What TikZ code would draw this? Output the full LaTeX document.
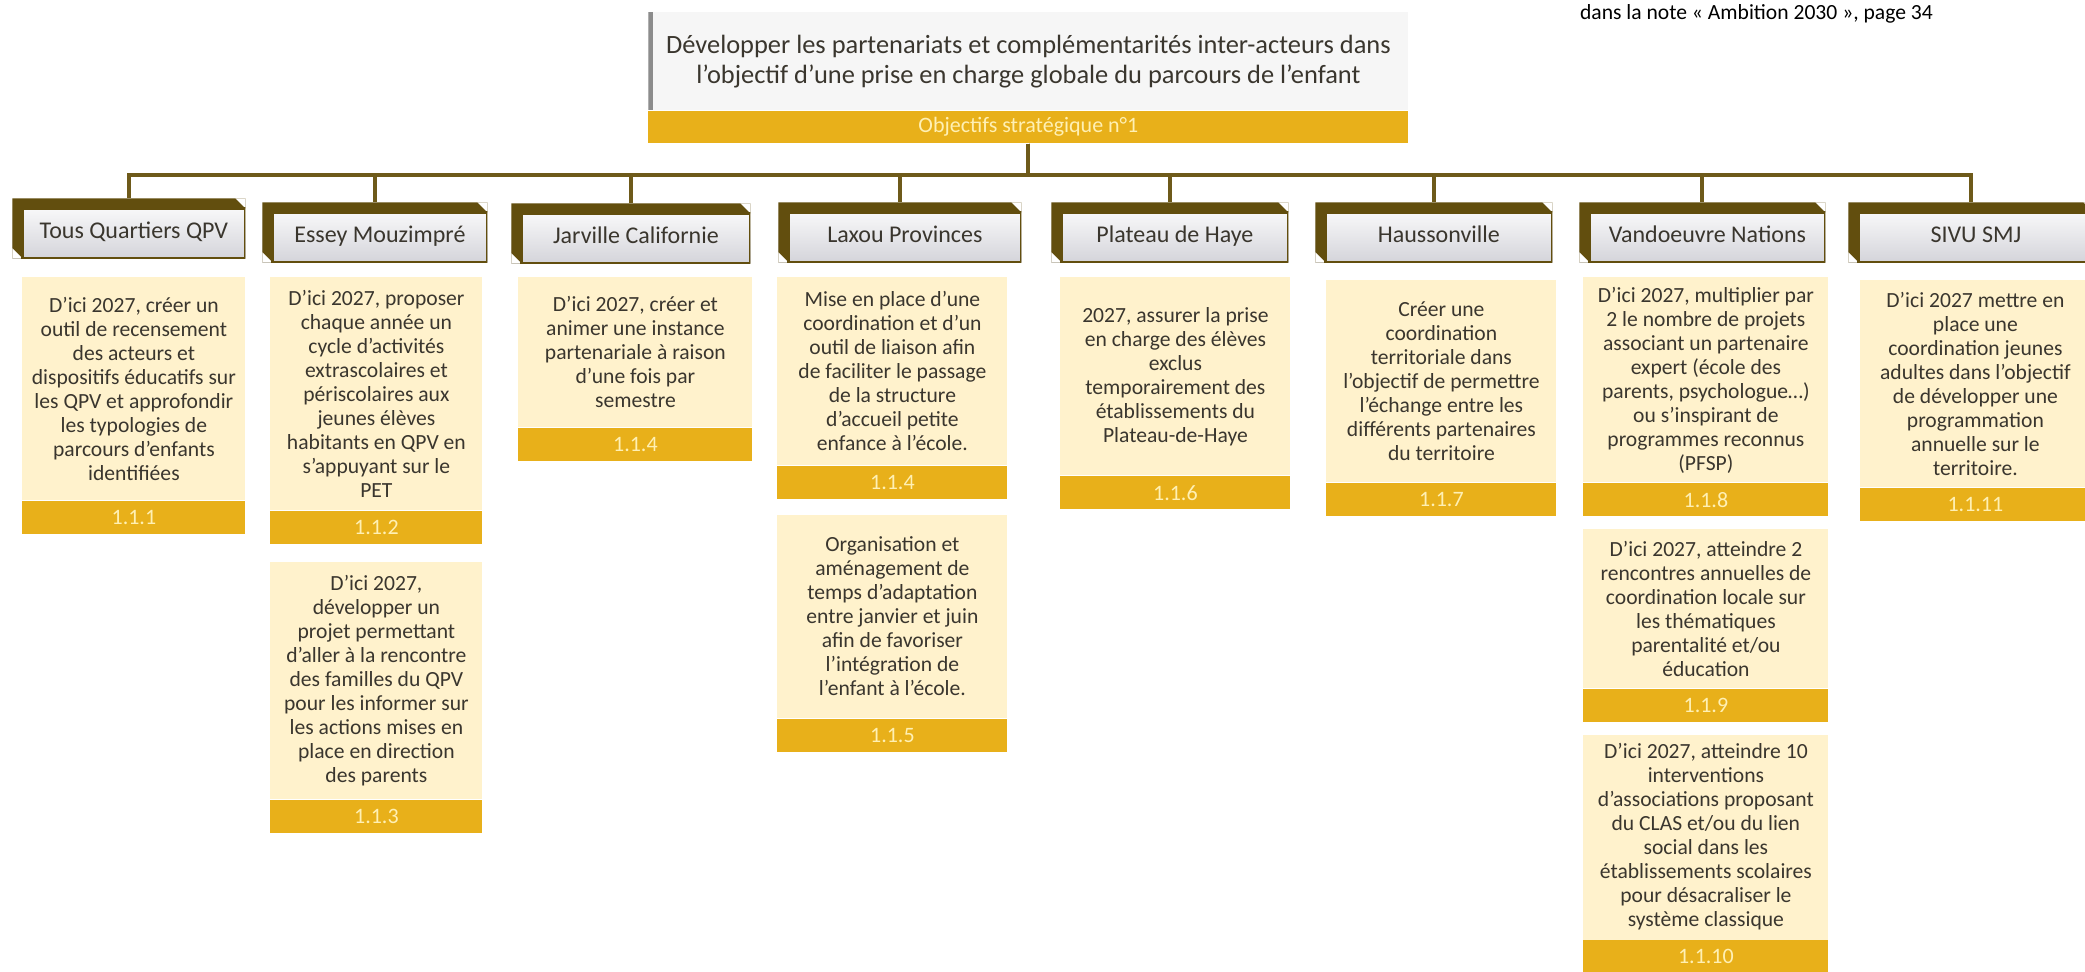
\documentclass[tikz,border=0pt]{standalone}
\usepackage{fontspec}
\setmainfont{Carlito}
\usetikzlibrary{positioning}
\definecolor{cream}{RGB}{255,242,204}
\definecolor{gold}{RGB}{232,176,26}
\definecolor{goldtxt}{RGB}{255,240,180}
\definecolor{bevel}{RGB}{98,78,14}
\definecolor{busline}{RGB}{110,90,26}
\definecolor{txt}{RGB}{58,54,46}
\definecolor{hdrgray}{RGB}{212,212,218}
\definecolor{titlegray}{RGB}{246,246,246}
\begin{document}
\begin{tikzpicture}%
	[x=0.5pt, y=-0.5pt,
	bus/.style={color=busline, line width=2pt},
	title/.style={anchor=north west, minimum width=380pt, minimum height=49pt, inner sep=0pt,
		fill=titlegray, align=center, text=txt, font=\fontsize{13.2}{15}\selectfont,
		path picture={\fill[black!45] (path picture bounding box.north west)
			rectangle ([xshift=2.5pt]path picture bounding box.south west);}},
	hdr/.style={anchor=north west, minimum width=118pt, minimum height=30pt, inner sep=0pt,
		top color=white, bottom color=hdrgray, text=txt, font=\fontsize{12}{14}\selectfont,
		text height=13pt, text depth=3pt, execute at begin node={\hspace*{5pt}},
		path picture={
			\coordinate (nw) at (path picture bounding box.north west);
			\coordinate (ne) at (path picture bounding box.north east);
			\coordinate (sw) at (path picture bounding box.south west);
			\coordinate (se) at (path picture bounding box.south east);
			\fill[bevel] (nw) -- (ne) -- ([yshift=-5pt]ne) -- ([shift={(5pt,-5pt)}]nw)
				-- ([xshift=5pt]sw) -- (sw) -- cycle;
			\fill[white] (ne) -- ([xshift=-5pt]ne) -- ([yshift=-5pt]ne) -- cycle;
			\fill[white] (sw) -- ([xshift=5pt]sw) -- ([yshift=5pt]sw) -- cycle;
			\draw[bevel, line width=1.2pt] ([shift={(5pt,-5pt)}]nw) rectangle (se);}},
	goal/.style={fill=cream, align=center, inner sep=0pt, text=txt,
		font=\fontsize{10.8}{12}\selectfont},
	num/.style={fill=gold, minimum height=16.5pt, inner sep=0pt, text=goldtxt,
		font=\fontsize{11}{12}\selectfont}]
%
\useasboundingbox (0,0) rectangle (2085,972);
%
%% Note in the corner and strategic objective
%%
\node[anchor=base west, font=\fontsize{10.8}{13}\selectfont] (note) at (1573,20)
	{dans la note « Ambition 2030 », page 34};
\node[title] (obj) at (648,12)
	{Développer les partenariats et complémentarités inter-acteurs dans\\
	l’objectif d’une prise en charge globale du parcours de l’enfant};
\node[num, minimum width=380pt, minimum height=16pt, below=0pt of obj] (objbar)
	{Objectifs stratégique n°1};
%%
%%
%% Headers of the quarters
%%
\node[hdr, minimum width=116.5pt] (h1) at (12,198) {Tous Quartiers QPV};
\node[hdr, minimum width=112.5pt] (h2) at (262,202) {Essey Mouzimpré};
\node[hdr, minimum width=119.5pt] (h3) at (511,203) {Jarville Californie};
\node[hdr, minimum width=121.5pt] (h4) at (778,202) {Laxou Provinces};
\node[hdr, minimum width=118.5pt] (h5) at (1051,202) {Plateau de Haye};
\node[hdr, minimum width=118.5pt] (h6) at (1315,202) {Haussonville};
\node[hdr, minimum width=123pt] (h7) at (1579,202) {Vandoeuvre Nations};
\node[hdr, minimum width=122.5pt] (h8) at (1848,202) {SIVU SMJ};
%%
%%
%% Operational goals
%%
\node[goal, anchor=north west, minimum width=111.5pt, minimum height=111.5pt] (b1) at (22,277)
	{D'ici 2027, créer un\\outil de recensement\\des acteurs et\\dispositifs éducatifs sur\\
	les QPV et approfondir\\les typologies de\\parcours d'enfants\\identifiées};
\node[num, minimum width=111.5pt, below=0pt of b1] (n1) {1.1.1};
%
\node[goal, anchor=north west, minimum width=106pt, minimum height=116.5pt] (b2) at (270,277)
	{D'ici 2027, proposer\\chaque année un\\cycle d'activités\\extrascolaires et\\
	périscolaires aux\\jeunes élèves\\habitants en QPV en\\s'appuyant sur le\\PET};
\node[num, minimum width=106pt, below=0pt of b2] (n2) {1.1.2};
\node[goal, minimum width=106pt, minimum height=118.5pt, below=8.5pt of n2] (b3)
	{D'ici 2027,\\développer un\\projet permettant\\d'aller à la rencontre\\
	des familles du QPV\\pour les informer sur\\les actions mises en\\place en direction\\des parents};
\node[num, minimum width=106pt, below=0pt of b3] (n3) {1.1.3};
%
\node[goal, anchor=north west, minimum width=117pt, minimum height=75pt] (b4) at (518,277)
	{D'ici 2027, créer et\\animer une instance\\partenariale à raison\\d'une fois par\\semestre};
\node[num, minimum width=117pt, below=0pt of b4] (n4) {1.1.4};
%
\node[goal, anchor=north west, minimum width=115pt, minimum height=94pt] (b5) at (777,277)
	{Mise en place d’une\\coordination et d’un\\outil de liaison afin\\de faciliter le passage\\
	de la structure\\d’accueil petite\\enfance à l’école.};
\node[num, minimum width=115pt, below=0pt of b5] (n5) {1.1.4};
\node[goal, minimum width=115pt, minimum height=101.5pt, below=7.5pt of n5] (b6)
	{Organisation et\\aménagement de\\temps d’adaptation\\entre janvier et juin\\
	afin de favoriser\\l’intégration de\\l’enfant à l’école.};
\node[num, minimum width=115pt, below=0pt of b6] (n6) {1.1.5};
%
\node[goal, anchor=north west, minimum width=115pt, minimum height=99pt] (b7) at (1060,277)
	{2027, assurer la prise\\en charge des élèves\\exclus\\temporairement des\\
	établissements du\\Plateau-de-Haye};
\node[num, minimum width=115pt, below=0pt of b7] (n7) {1.1.6};
%
\node[goal, anchor=north west, minimum width=115pt, minimum height=101pt] (b8) at (1326,280)
	{Créer une\\coordination\\territoriale dans\\l’objectif de permettre\\
	l’échange entre les\\différents partenaires\\du territoire};
\node[num, minimum width=115pt, below=0pt of b8] (n8) {1.1.7};
%
\node[goal, anchor=north west, minimum width=122.5pt, minimum height=102.5pt] (b9) at (1583,277)
	{D'ici 2027, multiplier par\\2 le nombre de projets\\associant un partenaire\\expert (école des\\
	parents, psychologue…)\\ou s'inspirant de\\programmes reconnus\\(PFSP)};
\node[num, minimum width=122.5pt, below=0pt of b9] (n9) {1.1.8};
\node[goal, minimum width=122.5pt, minimum height=79.5pt, below=6pt of n9] (b10)
	{D'ici 2027, atteindre 2\\rencontres annuelles de\\coordination locale sur\\les thématiques\\
	parentalité et/ou\\éducation};
\node[num, minimum width=122.5pt, below=0pt of b10] (n10) {1.1.9};
\node[goal, minimum width=122.5pt, minimum height=102.5pt, below=6pt of n10] (b11)
	{D'ici 2027, atteindre 10\\interventions\\d'associations proposant\\du CLAS et/ou du lien\\
	social dans les\\établissements scolaires\\pour désacraliser le\\système classique};
\node[num, minimum width=122.5pt, below=0pt of b11] (n11) {1.1.10};
%
\node[goal, anchor=north west, minimum width=115pt, minimum height=103.5pt] (b12) at (1860,280)
	{D’ici 2027 mettre en\\place une\\coordination jeunes\\adultes dans l’objectif\\
	de développer une\\programmation\\annuelle sur le\\territoire.};
\node[num, minimum width=115pt, below=0pt of b12] (n12) {1.1.11};
%%
%%
%% Drawing the connectors
%%
\foreach \h in {h1,h2,h3,h4,h5,h6,h7,h8}
	\draw[bus] (objbar.south) -- ++(0,31) -| (\h.north);
%%
%%
\end{tikzpicture}
\end{document}
